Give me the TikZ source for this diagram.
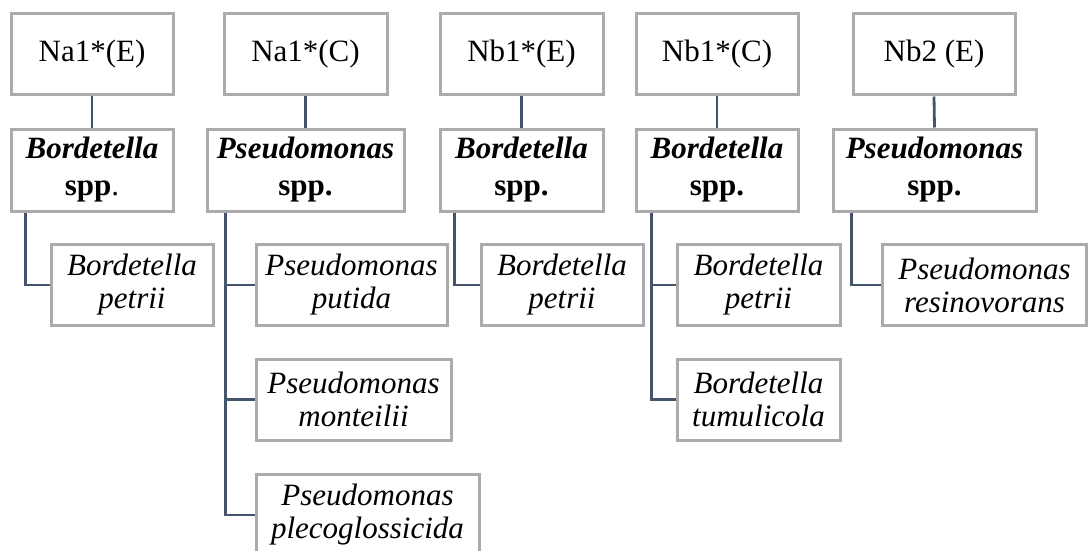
\documentclass[tikz,border=0pt]{standalone}
\usepackage{fontspec}
\setmainfont{Liberation Serif}
\definecolor{boxgray}{HTML}{ABABAB}
\definecolor{conncol}{HTML}{44546A}
\begin{document}
\begin{tikzpicture}[x=1pt,y=-1pt,
  box/.style={draw=boxgray, line width=3pt, fill=white, align=center, inner sep=0pt, minimum height=81pt},
  topbox/.style={box, font=\fontsize{31}{34}\selectfont},
  genus/.style={box, font=\fontsize{31}{37}\selectfont\bfseries},
  species/.style={box, font=\fontsize{31}{33}\selectfont\itshape},
  conn/.style={draw=conncol, line width=2.8pt}]
\useasboundingbox (0,0) rectangle (1088,551);
% top row
\node[topbox, minimum width=162pt] (a1) at (92,54.5) {Na1*(E)};
\node[topbox, minimum width=163pt] (b1) at (305.5,54.5) {Na1*(C)};
\node[topbox, minimum width=163pt] (c1) at (521.5,54.5) {Nb1*(E)};
\node[topbox, minimum width=162pt] (d1) at (717,54.5) {Nb1*(C)};
\node[topbox, minimum width=162pt] (e1) at (934,54.5) {Nb2 (E)};
% genus row
\node[genus, minimum width=162pt, minimum height=82pt] (a2) at (92,170) {\textit{Bordetella}\\spp{\mdseries.}};
\node[genus, minimum width=197pt, minimum height=82pt] (b2) at (305.5,170) {\textit{Pseudomonas}\\spp.};
\node[genus, minimum width=163pt, minimum height=82pt] (c2) at (521.5,170) {\textit{Bordetella}\\spp.};
\node[genus, minimum width=162pt, minimum height=82pt] (d2) at (717,170) {\textit{Bordetella}\\spp.};
\node[genus, minimum width=203pt, minimum height=82pt] (e2) at (934.5,170) {\textit{Pseudomonas}\\spp.};
% species
\node[species, minimum width=162pt] (a3) at (132,285) {Bordetella\\petrii};
\node[species, minimum width=191pt] (b3) at (351.5,285) {Pseudomonas\\putida};
\node[species, minimum width=195pt] (b4) at (353.5,399.5) {Pseudomonas\\monteilii};
\node[species, minimum width=223pt] (b5) at (367.5,515) {Pseudomonas\\plecoglossicida};
\node[species, minimum width=162pt] (c3) at (562,285) {Bordetella\\petrii};
\node[species, minimum width=163pt] (d3) at (758.5,285) {Bordetella\\petrii};
\node[species, minimum width=163pt] (d4) at (758.5,399.5) {Bordetella\\tumulicola};
\node[species, minimum width=204pt] (e3) at (984.5,285) {Pseudomonas\\resinovorans};
% connectors
\foreach \t/\g in {a1/a2,b1/b2,c1/c2,d1/d2,e1/e2}
  \draw[conn] (\t.south) -- (\g.north);
\draw[conn] ([xshift=16pt]a2.south west) |- (a3.west);
\draw[conn] ([xshift=20pt]b2.south west) |- (b3.west);
\draw[conn] ([xshift=20pt]b2.south west) |- (b4.west);
\draw[conn] ([xshift=20pt]b2.south west) |- (b5.west);
\draw[conn] ([xshift=16pt]c2.south west) |- (c3.west);
\draw[conn] ([xshift=17pt]d2.south west) |- (d3.west);
\draw[conn] ([xshift=17pt]d2.south west) |- (d4.west);
\draw[conn] ([xshift=20pt]e2.south west) |- (e3.west);
\end{tikzpicture}
\end{document}
